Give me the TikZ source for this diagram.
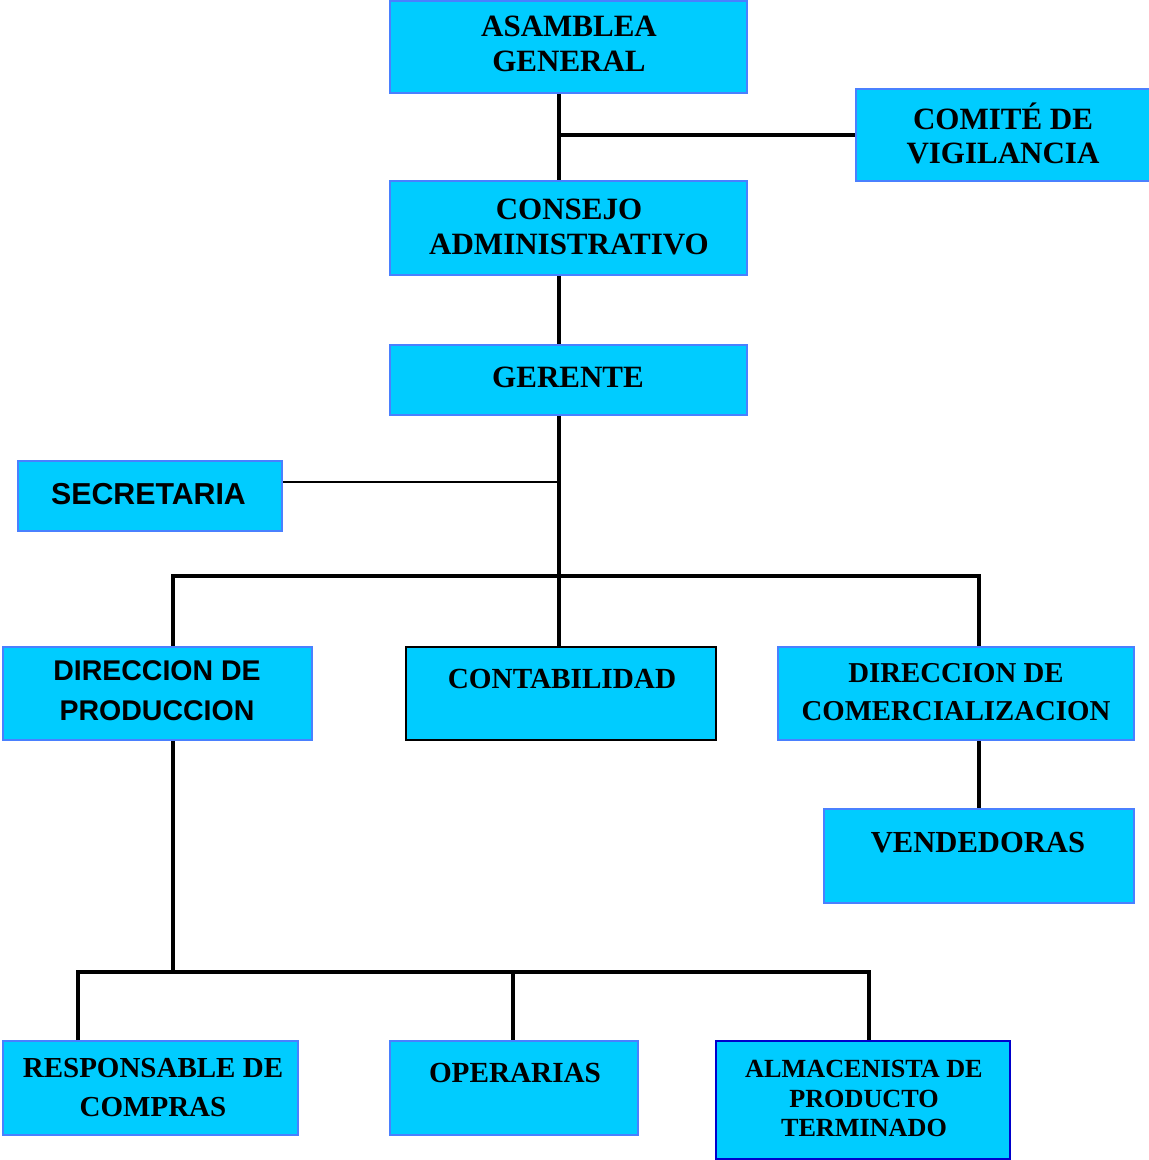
\documentclass[tikz,border=0pt]{standalone}
\usepackage{fontspec}
\setmainfont{Liberation Serif}
\newfontfamily\sansb{Liberation Sans}
\definecolor{boxfill}{HTML}{00CCFF}
\definecolor{boxline}{HTML}{4A80FF}
\definecolor{deepline}{HTML}{0000CC}
\newcommand{\serifsz}[2]{\fontsize{#1}{#2}\selectfont\bfseries}
\newcommand{\sanssz}[2]{\sansb\fontsize{#1}{#2}\selectfont\bfseries}
\tikzset{
  box/.style={draw=boxline, line width=1.8pt, fill=boxfill, anchor=north west, inner sep=0pt},
  txt/.style={align=center, inner sep=0pt, anchor=center},
  conn/.style={line width=3.2pt, black},
  thinconn/.style={line width=1.5pt, black}
}
\begin{document}
\begin{tikzpicture}[x=1pt, y=-1pt]
\useasboundingbox (0,0) rectangle (1149,1160);

% boxes
\node[box, minimum width=357pt, minimum height=92pt] (asamblea) at (389,0) {};
\node[box, minimum width=294pt, minimum height=92pt] (comite) at (855,88) {};
\node[box, minimum width=357pt, minimum height=94pt] (consejo) at (389,180) {};
\node[box, minimum width=357pt, minimum height=70pt] (gerente) at (389,344) {};
\node[box, minimum width=264pt, minimum height=70pt] (secretaria) at (17,460) {};
\node[box, minimum width=309pt, minimum height=93pt] (prod) at (2,646) {};
\node[box, draw=black, minimum width=310pt, minimum height=93pt] (contab) at (405,646) {};
\node[box, minimum width=356pt, minimum height=93pt] (comer) at (777,646) {};
\node[box, minimum width=310pt, minimum height=94pt] (vend) at (823,808) {};
\node[box, minimum width=295pt, minimum height=94pt] (resp) at (2,1040) {};
\node[box, minimum width=248pt, minimum height=94pt] (oper) at (389,1040) {};
\node[box, draw=deepline, line width=2.4pt, minimum width=294pt, minimum height=118pt] (alm) at (715,1040) {};

% labels
\node[txt, font=\serifsz{31}{35}] (asamblea-t) at (569,43.5) {ASAMBLEA\\GENERAL};
\node[txt, font=\serifsz{31}{34}] (comite-t) at (1003,133) {COMITÉ DE\\VIGILANCIA};
\node[txt, font=\serifsz{31}{35}] (consejo-t) at (569,226.5) {CONSEJO\\ADMINISTRATIVO};
\node[txt, font=\serifsz{31}{35}] (gerente-t) at (568,377) {GERENTE};
\node[txt, font=\sanssz{30.3}{35}] (secretaria-t) at (148.5,494) {SECRETARIA};
\node[txt, font=\sanssz{28.5}{40}] (prod-t) at (157,691) {DIRECCION DE\\PRODUCCION};
\node[txt, font=\serifsz{29.2}{34}] (contab-t) at (562,679) {CONTABILIDAD};
\node[txt, font=\serifsz{28.8}{38}] (comer-t) at (956,692) {DIRECCION DE\\COMERCIALIZACION};
\node[txt, font=\serifsz{30.6}{35}] (vend-t) at (978,843) {VENDEDORAS};
\node[txt, font=\serifsz{29}{39}] (resp-t) at (153,1087.5) {RESPONSABLE DE\\COMPRAS};
\node[txt, font=\serifsz{29.2}{34}] (oper-t) at (515,1073) {OPERARIAS};
\node[txt, font=\serifsz{26.2}{29.5}] (alm-t) at (864,1098.5) {ALMACENISTA DE\\PRODUCTO\\TERMINADO};

% branch points
\coordinate (spine) at (559,0);
\coordinate (sectap) at (559,482);
\coordinate (b1) at (173,576);
\coordinate (b2) at (979,576);
\coordinate (b3) at (78,972);
\coordinate (b4) at (869,972);
\coordinate (b5) at (513,972);

% connectors
\draw[conn] (asamblea.south -| spine) -- (consejo.north -| spine);
\draw[conn] (comite.west) -- (comite.west -| spine);
\draw[conn] (consejo.south -| spine) -- (gerente.north -| spine);
\draw[conn] (gerente.south -| spine) -- (contab.north -| spine);
\draw[thinconn] (sectap) -- (sectap -| secretaria.east);
\draw[conn] (b1 |- prod.north) -- (b1) -- (b2) -- (b2 |- comer.north);
\draw[conn] (b2 |- comer.south) -- (b2 |- vend.north);
\draw[conn] (b1 |- prod.south) -- (b1 |- b3);
\draw[conn] (b3 |- resp.north) -- (b3) -- (b4) -- (b4 |- alm.north);
\draw[conn] (b5) -- (b5 |- oper.north);
\end{tikzpicture}
\end{document}
